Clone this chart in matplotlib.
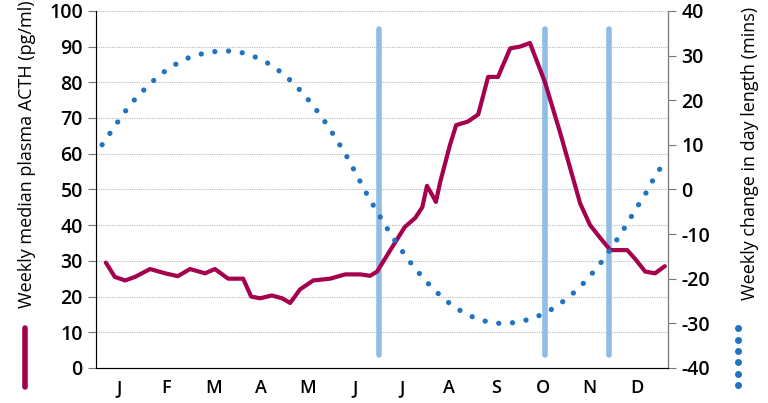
import matplotlib
matplotlib.use('Agg')
import matplotlib.pyplot as plt
from matplotlib.lines import Line2D
import numpy as np

plt.rcParams['font.family'] = ['Open Sans', 'DejaVu Sans']
plt.rcParams['font.weight'] = 'semibold'

months = ['J', 'F', 'M', 'A', 'M', 'J', 'J', 'A', 'S', 'O', 'N', 'D']

# weekly median plasma ACTH (pg/ml), x in months from start of year
acth_x = [0.21, 0.4, 0.62, 0.83, 1.15, 1.47, 1.74, 2.0, 2.32, 2.53, 2.81, 3.13,
          3.3, 3.49, 3.74, 3.96, 4.13, 4.34, 4.62, 4.98, 5.3, 5.62, 5.83, 5.98,
          6.26, 6.57, 6.79, 6.94, 7.04, 7.17, 7.23, 7.32, 7.53, 7.66, 7.91, 8.13,
          8.34, 8.55, 8.81, 9.02, 9.23, 9.55, 9.87, 10.3, 10.51, 10.72, 10.94,
          11.3, 11.47, 11.68, 11.89, 12.1]
acth = [29.5, 25.5, 24.5, 25.5, 27.7, 26.5, 25.7, 27.7, 26.5, 27.7, 25, 25,
        20, 19.5, 20.3, 19.5, 18.2, 22, 24.5, 25, 26.2, 26.2, 25.8, 27,
        33, 39.5, 42, 45, 51, 48, 46.5, 52, 62.5, 68, 69, 71,
        81.5, 81.5, 89.5, 90, 91, 80, 66, 46, 40, 36.5,
        33, 33, 30.5, 27, 26.5, 28.5]

# weekly change in day length (mins)
day_change = [10, 13.5, 17, 20, 22.5, 24.8, 26.7, 28.2, 29.4, 30.2, 30.7, 31,
              31, 30.7, 30, 29, 27.6, 25.8, 23.6, 21, 18, 14.7, 11, 7, 2.5,
              -2, -6, -10, -13.5, -16.8, -19.7, -22.3, -24.5, -26.4, -27.8, -28.9,
              -29.6, -30, -30, -29.7, -29.1, -28.2, -27, -25.4, -23.5, -21.2,
              -18.5, -15.5, -12, -8.3, -4.3, -0.5, 4, 6.5]
day_x = np.linspace(0.13, 12.17, len(day_change))

bars_x = [6.02, 9.55, 10.91]

crimson = '#a5004e'
dotblue = '#1f73c0'
barblue = '#8fbde6'
grey = '#777777'

fig = plt.figure(figsize=(7.68, 4.03), dpi=100)
ax = fig.add_axes([0.125, 0.087, 0.745, 0.886])
ax.set_xlim(0, 12.17)
ax.set_ylim(0, 100)
ax.set_yticks(range(0, 101, 10))
ax.set_xticks(np.arange(12) + 0.5)
ax.set_xticklabels(months)
ax.grid(axis='y', color='#bbbbbb', linestyle=(0, (1, 1)), linewidth=0.8)
ax.set_axisbelow(True)
ax.spines['top'].set_visible(False)
for s in ['left', 'bottom', 'right']:
    ax.spines[s].set_color(grey)
ax.tick_params(axis='x', length=0, labelsize=13, pad=8)
ax.tick_params(axis='y', length=6, color=grey, labelsize=14)
ax.set_ylabel('Weekly median plasma ACTH (pg/ml)', fontsize=13)
ax.yaxis.set_label_coords(-0.105, 0.6)

ax2 = ax.twinx()
ax2.set_ylim(-40, 40)
ax2.set_yticks(range(-40, 41, 10))
ax2.set_yticklabels([str(v) if v >= 0 else '-' + str(-v) for v in range(-40, 41, 10)])
ax2.spines['top'].set_visible(False)
ax2.spines['right'].set_color(grey)
ax2.tick_params(axis='y', length=6, color=grey, labelsize=14)
ax2.set_ylabel('Weekly change in day length (mins)', fontsize=13)
ax2.yaxis.set_label_coords(1.128, 0.6)

for bx in bars_x:
    ax.plot([bx, bx], [3.5, 95], color=barblue, linewidth=4, solid_capstyle='round', zorder=2)

ax2.plot(day_x, day_change, linestyle=(0, (0.01, 2.6)), dash_capstyle='round',
         linewidth=3.8, color=dotblue, zorder=3)
ax.plot(acth_x, acth, color=crimson, linewidth=3, solid_capstyle='round',
        solid_joinstyle='round', zorder=4)

# legend swatches beside axis labels
fig.add_artist(Line2D([0.033, 0.033], [0.04, 0.185], color=crimson, linewidth=4,
                      solid_capstyle='round', transform=fig.transFigure))
fig.add_artist(Line2D([0.961] * 6, np.linspace(0.045, 0.185, 6), linestyle='none', marker='o',
                      markersize=4, color=dotblue, transform=fig.transFigure))

fig.savefig('out.png', dpi=100)
